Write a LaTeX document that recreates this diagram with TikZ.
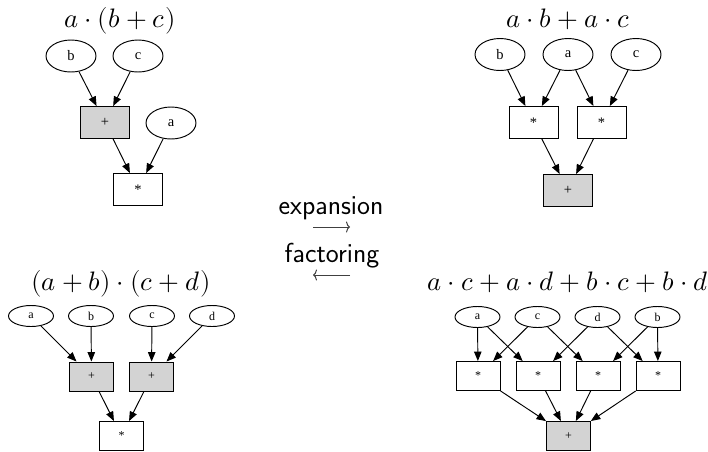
\documentclass[tikz,border=0pt]{standalone}
\usepackage{fontspec}
\usepackage{unicode-math}
\newfontfamily\gvfont{Liberation Serif}
\usetikzlibrary{shapes.geometric, arrows.meta}
\definecolor{opgray}{HTML}{D3D3D3}

\begin{document}
\begin{tikzpicture}[x=1pt, y=-1pt, -{Triangle[length=9.5pt, width=7.5pt]}, line width=0.95pt,
    leaf/.style={ellipse, draw, inner sep=0pt, minimum width=50pt, minimum height=32pt, font=\gvfont\fontsize{14.5}{16}\selectfont},
    op/.style={rectangle, draw, inner sep=0pt, minimum width=49pt, minimum height=32pt, font=\gvfont\fontsize{14.5}{16}\selectfont},
    sleaf/.style={leaf, minimum width=45pt, minimum height=21pt, font=\gvfont\fontsize{12}{14}\selectfont},
    sop/.style={op, minimum width=44pt, minimum height=29pt, font=\gvfont\fontsize{12}{14}\selectfont},
    sum/.style={fill=opgray},
    title/.style={anchor=base, font=\fontsize{26.7}{30}\selectfont},
    word/.style={anchor=base, font=\sffamily\fontsize{27.5}{30}\selectfont},
    glyph/.style={-{To[length=4pt, width=11pt]}, line width=1pt, black!75}]
    \useasboundingbox (0,0) rectangle (708,451);

    % a(b+c)
    \node (TLtitle) [title] at (120,27) {$a\cdot(b+c)$};
    \node (TLb) [leaf] at (71,56) {b};
    \node (TLc) [leaf] at (138,56) {c};
    \node (TLplus) [op, sum] at (105,122.5) {+};
    \node (TLa) [leaf] at (171,123) {a};
    \node (TLtimes) [op] at (138,189.5) {*};
    \draw (TLb) -- (TLplus);
    \draw (TLc) -- (TLplus);
    \draw (TLplus) -- (TLtimes);
    \draw (TLa) -- (TLtimes);

    % ab+ac
    \node (TRtitle) [title] at (568,27) {$a\cdot b+a\cdot c$};
    \node (TRb) [leaf] at (500,54.5) {b};
    \node (TRa) [leaf] at (568,54.5) {a};
    \node (TRc) [leaf] at (636,54.5) {c};
    \node (TRtimesA) [op] at (533.5,122.5) {*};
    \node (TRtimesB) [op] at (601.5,122.5) {*};
    \node (TRplus) [op, sum] at (568,190.5) {+};
    \draw (TRb) -- (TRtimesA);
    \draw (TRa) -- (TRtimesA);
    \draw (TRa) -- (TRtimesB);
    \draw (TRc) -- (TRtimesB);
    \draw (TRtimesA) -- (TRplus);
    \draw (TRtimesB) -- (TRplus);

    % (a+b)(c+d)
    \node (BLtitle) [title] at (121,290.5) {$(a+b)\cdot(c+d)$};
    \node (BLa) [sleaf] at (31,316) {a};
    \node (BLb) [sleaf] at (91,316) {b};
    \node (BLc) [sleaf] at (152,316) {c};
    \node (BLd) [sleaf] at (212,316) {d};
    \node (BLplusA) [sop, sum] at (91.5,376.5) {+};
    \node (BLplusB) [sop, sum] at (151.5,376.5) {+};
    \node (BLtimes) [sop] at (121.5,436) {*};
    \draw (BLa) -- (BLplusA);
    \draw (BLb) -- (BLplusA);
    \draw (BLc) -- (BLplusB);
    \draw (BLd) -- (BLplusB);
    \draw (BLplusA) -- (BLtimes);
    \draw (BLplusB) -- (BLtimes);

    % ac+ad+bc+bd
    \node (BRtitle) [title] at (568,290) {$a\cdot c+a\cdot d+b\cdot c+b\cdot d$};
    \node (BRa) [sleaf] at (477.5,317) {a};
    \node (BRc) [sleaf] at (537.5,317) {c};
    \node (BRd) [sleaf] at (597.5,317) {d};
    \node (BRb) [sleaf] at (657.5,317) {b};
    \node (BRtimesA) [sop] at (478,376) {*};
    \node (BRtimesB) [sop] at (538,376) {*};
    \node (BRtimesC) [sop] at (598,376) {*};
    \node (BRtimesD) [sop] at (658,376) {*};
    \node (BRplus) [sop, sum] at (568.5,436) {+};
    \draw (BRa) -- (BRtimesA);
    \draw (BRa) -- (BRtimesB);
    \draw (BRc) -- (BRtimesA);
    \draw (BRc) -- (BRtimesC);
    \draw (BRd) -- (BRtimesB);
    \draw (BRd) -- (BRtimesD);
    \draw (BRb) -- (BRtimesC);
    \draw (BRb) -- (BRtimesD);
    \draw (BRtimesA) -- (BRplus);
    \draw (BRtimesB) -- (BRplus);
    \draw (BRtimesC) -- (BRplus);
    \draw (BRtimesD) -- (BRplus);

    % rewriting directions
    \node (expand) [word] at (331,214) {expansion};
    \node (factor) [word] at (332,262) {factoring};
    \coordinate (expandL) at (313,227);
    \coordinate (expandR) at (350,227);
    \coordinate (factorL) at (313,275);
    \coordinate (factorR) at (350,275);
    \draw [glyph] (expandL) -- (expandR);
    \draw [glyph] (factorR) -- (factorL);
\end{tikzpicture}
\end{document}
